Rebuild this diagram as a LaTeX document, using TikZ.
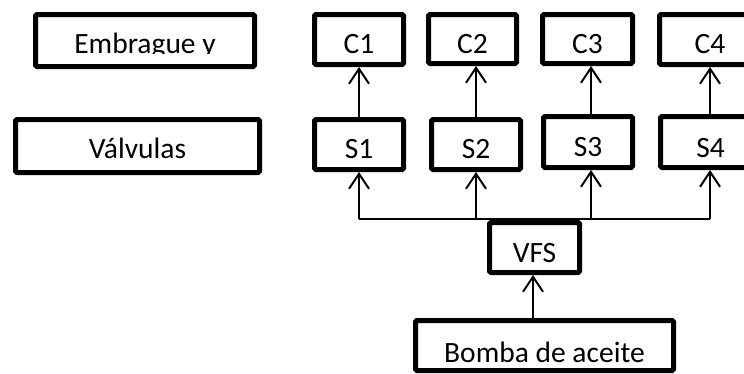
\documentclass[tikz,border=0pt]{standalone}
\usepackage{fontspec}
\setmainfont{Carlito}
\usetikzlibrary{arrows.meta}
\tikzset{
  boxst/.style={draw, line width=5pt, rounded corners=1.5pt, inner sep=0pt, fill=white},
  txtst/.style={anchor=base, inner sep=0pt, font=\fontsize{29.5}{32}\selectfont},
  arr/.style={line width=2pt, -{Straight Barb[length=15pt,width=20pt]}},
  busst/.style={line width=2pt},
}
% #1 name, #2 x1, #3 y1, #4 x2, #5 y2 (outer edges), #6 baseline, #7 text
\newcommand\obox[7]{%
  \node[boxst, minimum width={#4-#2-5}, minimum height={#5-#3-5}] (#1) at ({(#2+#4)/2},{(#3+#5)/2}) {};
  \node[txtst] (#1t) at ({(#2+#4)/2},#6) {#7};}
\newcommand\ebox[5]{%
  \node[boxst, minimum width={#4-#2-5}, minimum height={#5-#3-5}] (#1) at ({(#2+#4)/2},{(#3+#5)/2}) {};}
\begin{document}
\begin{tikzpicture}[x=1pt,y=-1pt]
  \fill[white] (0,0) rectangle (744,373);
  \clip (0,0) rectangle (744,373);
  % left labels
  \ebox{emb}{33}{12}{257}{69}
  \begin{scope}
    \clip (33,12) rectangle (257,53.8);
    \node[txtst] (embt) at (145,53) {Embrague y};
  \end{scope}
  \obox{val}{13}{117}{262}{175}{158}{Válvulas}
  % C row
  \obox{c1}{312}{12}{406}{67}{53}{C1}
  \obox{c2}{426}{12}{519}{66}{53}{C2}
  \obox{c3}{540}{12}{635}{66}{53}{C3}
  \obox{c4}{657}{12}{763}{67}{53}{C4}
  % S row
  \obox{s1}{312}{117}{406}{172}{158}{S1}
  \obox{s2}{429}{117}{523}{172}{158}{S2}
  \obox{s3}{541}{114}{635}{170}{156}{S3}
  \obox{s4}{658}{114}{763}{170}{157}{S4}
  % VFS and pump
  \obox{vfs}{487}{220}{582}{275}{262}{VFS}
  \ebox{bomba}{413}{318}{676}{373}
  \begin{scope}
    \clip (413,318) rectangle (676,362.5);
    \node[txtst] (bombat) at (544.5,362) {Bomba de aceite};
  \end{scope}
  % bus coordinates
  \coordinate (b1) at (359,219);
  \coordinate (b2) at (476,219);
  \coordinate (b3) at (591,219);
  \coordinate (b4) at (710,219);
  \coordinate (vb) at (533,275);
  \draw[busst] (b1) -- (b4);
  \draw[arr] (b1) -- (b1 |- s1.south);
  \draw[arr] (b2) -- (b2 |- s2.south);
  \draw[arr] (b3) -- (b3 |- s3.south);
  \draw[arr] (b4) -- (b4 |- s4.south);
  \draw[arr] (b1 |- s1.north) -- (b1 |- c1.south);
  \draw[arr] (b2 |- s2.north) -- (b2 |- c2.south);
  \draw[arr] (b3 |- s3.north) -- (b3 |- c3.south);
  \draw[arr] (b4 |- s4.north) -- (b4 |- c4.south);
  \draw[arr] (vb |- bomba.north) -- (vb |- vfs.south);
\end{tikzpicture}
\end{document}
